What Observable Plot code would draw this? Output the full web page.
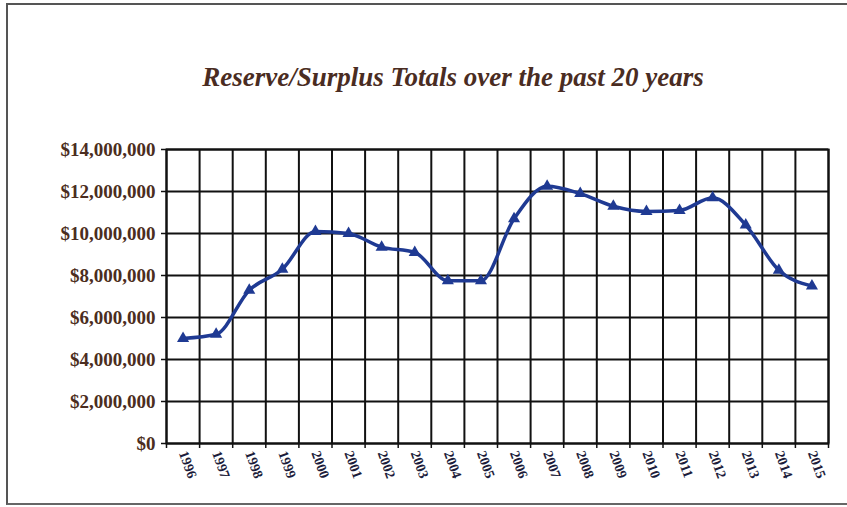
<!DOCTYPE html>
<html>
<head>
<meta charset="utf-8">
<script src="https://cdn.jsdelivr.net/npm/d3@7"></script>
<script src="https://cdn.jsdelivr.net/npm/@observablehq/plot@0.6"></script>
<style>
  body { margin: 0; background: #fff; }
  #chart { position: relative; width: 847px; height: 507px; overflow: hidden; background: #fff; }
  #chart svg { position: absolute; left: 0; top: 0; }
  #border { position: absolute; left: 6px; top: 3px; right: -4px; bottom: 2px;
            border-top: 2px solid #555; border-left: 2px solid #555; border-bottom: 2px solid #666; }
  #title { position: absolute; left: 0; width: 906px; top: 62px; text-align: center;
           font: italic bold 27px "Liberation Serif", "Times New Roman", serif; color: #4a2c22; }
</style>
</head>
<body>
<div id="chart">
  <div id="border"></div>
  <div id="title">Reserve/Surplus Totals over the past 20 years</div>
</div>
<script>
// Fund year
const years = [1996, 1997, 1998, 1999, 2000, 2001, 2002, 2003, 2004, 2005,
               2006, 2007, 2008, 2009, 2010, 2011, 2012, 2013, 2014, 2015];
// Reserve/surplus total at year end (dollars)
const totals = [5000000, 5200000, 7300000, 8300000, 10100000, 10000000, 9350000, 9100000, 7750000, 7750000,
                10700000, 12250000, 11900000, 11300000, 11050000, 11100000, 11700000, 10400000, 8250000, 7500000];
// Value axis ticks
const yTicks = [0, 2000000, 4000000, 6000000, 8000000, 10000000, 12000000, 14000000];

const data = years.map((year, i) => ({year, total: totals[i]}));
// category boundaries between consecutive years
const edges = years.map(y => y - 0.5).concat([years[years.length - 1] + 0.5]);

const lineColor = "#1f3a93";
const ink = "#111";
const money = d => "$" + d3.format(",")(d);

const chart = Plot.plot({
  width: 847,
  height: 507,
  marginTop: 149,
  marginBottom: 64,
  marginLeft: 166,
  marginRight: 19,
  style: { fontFamily: "'Liberation Serif', 'Times New Roman', serif", background: "transparent" },
  x: { domain: [edges[0], edges[edges.length - 1]] },
  y: { domain: [0, 14000000] },
  marks: [
    Plot.gridX(edges, { stroke: ink, strokeOpacity: 1, strokeWidth: 2 }),
    Plot.gridY(yTicks, { stroke: ink, strokeOpacity: 1, strokeWidth: 2 }),
    Plot.frame({ stroke: ink, strokeWidth: 2 }),
    Plot.axisY(yTicks, {
      tickFormat: money, tickSize: 5, tickPadding: 6, stroke: ink, strokeWidth: 1.5,
      fontSize: 19, fontWeight: "bold", fill: "#4b2d20", label: null
    }),
    Plot.axisX(edges, { tickSize: 5, tickFormat: () => "", stroke: ink, strokeWidth: 1.5, label: null }),
    Plot.axisX(years, {
      tickSize: 0, tickPadding: 8, tickRotate: 70, tickFormat: d => String(d),
      fontSize: 14, fontWeight: "bold", fill: "#1c1c3a", label: null
    }),
    Plot.line(data, { x: "year", y: "total", curve: "monotone-x", stroke: lineColor, strokeWidth: 3.5 }),
    Plot.dot(data, { x: "year", y: "total", symbol: "triangle", fill: lineColor, r: 4.5 })
  ]
});

document.getElementById("chart").insertBefore(chart, document.getElementById("border"));
</script>
</body>
</html>
